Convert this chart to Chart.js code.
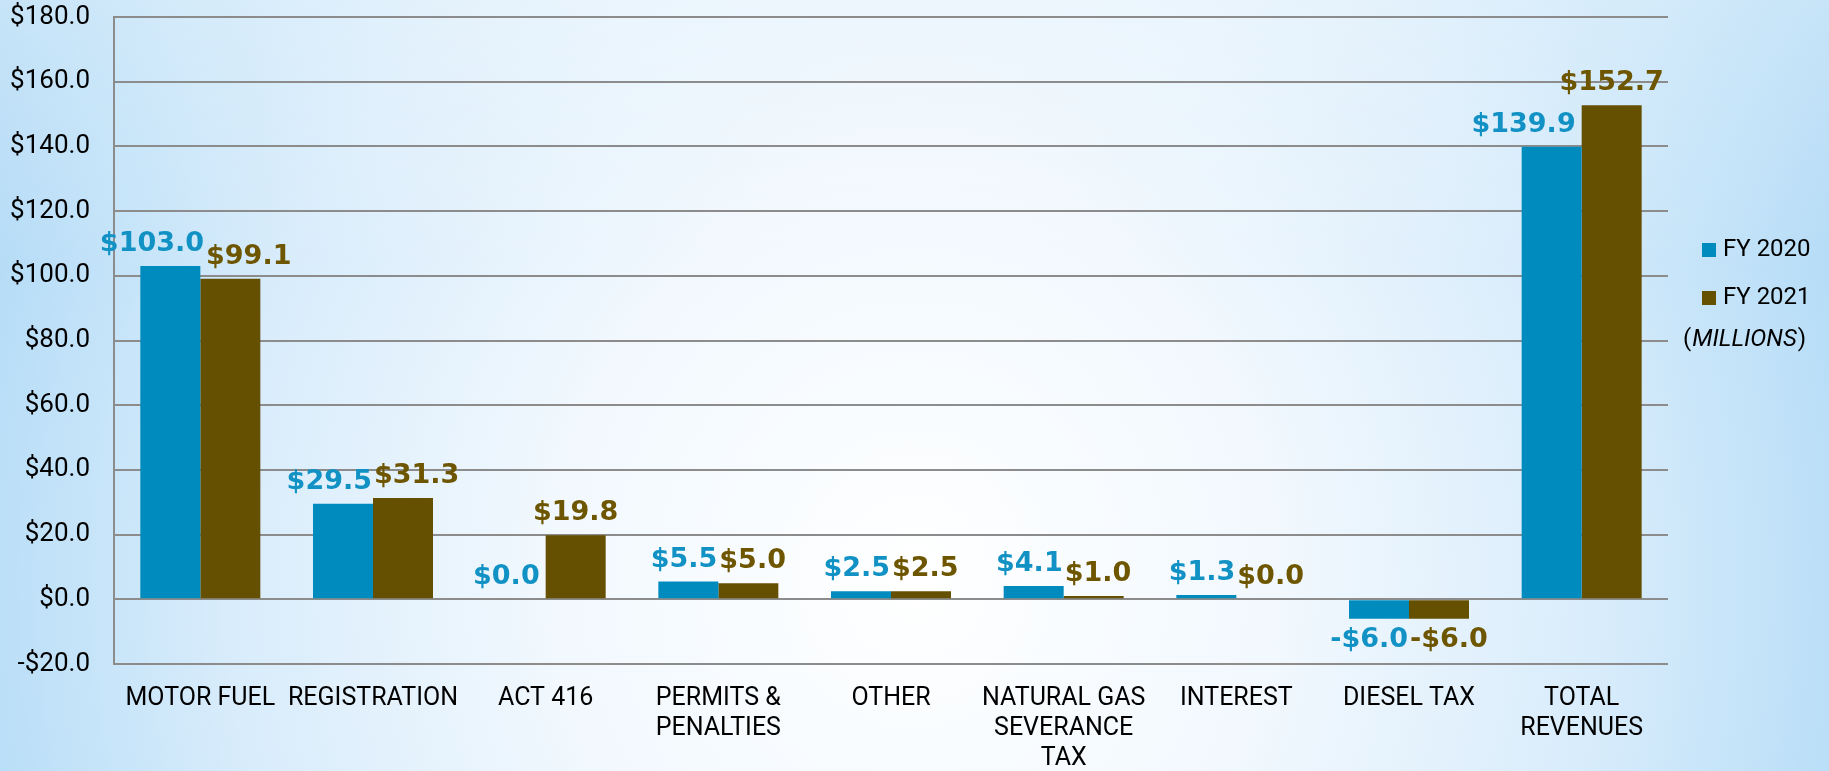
<!DOCTYPE html>
<html>
<head>
<meta charset="utf-8">
<script src="https://cdn.jsdelivr.net/npm/chart.js@4.4.1/dist/chart.umd.min.js"></script>
<style>
	html, body { margin: 0; padding: 0; width: 1829px; height: 771px; overflow: hidden; }
	body {
		background:
			linear-gradient(to bottom, rgba(255, 255, 255, 0.35) 0%, rgba(255, 255, 255, 0) 35%),
			radial-gradient(ellipse 58% 150% at 50% 75%, #ffffff 0%, #f1f8fe 35%, #d8ecfb 65%, #bde0f8 85%, #a8d5f4 100%);
	}
	#wrap { position: relative; width: 1829px; height: 771px; }
</style>
</head>
<body>
<div id="wrap"><canvas id="chart-revenues"></canvas></div>
<script>
// ----------------------------------------------
// Data (millions)
// ----------------------------------------------
const CATEGORIES = [
	"MOTOR FUEL",
	"REGISTRATION",
	"ACT 416",
	["PERMITS &", "PENALTIES"],
	"OTHER",
	["NATURAL GAS", "SEVERANCE", "TAX"],
	"INTEREST",
	"DIESEL TAX",
	["TOTAL", "REVENUES"],
];
const SERIES_NAMES = ["FY 2020", "FY 2021"];
const FY2020 = [103.0, 29.5, 0.0, 5.5, 2.5, 4.1, 1.3, -6.0, 139.9];
const FY2021 = [99.1, 31.3, 19.8, 5.0, 2.5, 1.0, 0.0, -6.0, 152.7];
const Y_TICKS = [-20, 0, 20, 40, 60, 80, 100, 120, 140, 160, 180];
const UNIT_NOTE = "MILLIONS";

const BLUE = "rgb(0, 139, 190)";
const BROWN = "rgb(101, 79, 0)";
const BLUE_TEXT = "rgb(18, 146, 196)";
const BROWN_TEXT = "rgb(110, 86, 0)";
const GRID = "#8c8c8c";

const money = (v) => (v < 0 ? "-$" : "$") + Math.abs(v).toFixed(1);

// value labels above / below each bar, pushed apart when they collide
const valueLabels = {
	id: "valueLabels",
	afterDatasetsDraw(chart) {
		const { ctx } = chart;
		const metas = [chart.getDatasetMeta(0), chart.getDatasetMeta(1)];
		ctx.save();
		ctx.font = "bold 27px 'DejaVu Sans'";
		CATEGORIES.forEach((c, i) => {
			const bars = metas.map((meta) => meta.data[i]);
			const items = bars.map((bar, d) => {
				const v = chart.data.datasets[d].data[i];
				const txt = money(v);
				const w = ctx.measureText(txt).width;
				const neg = v < 0;
				return { txt, w, x: bar.x, y: neg ? bar.y + 8 : bar.y - 15, neg, color: d === 0 ? BLUE_TEXT : BROWN_TEXT };
			});
			const [a, b] = items;
			const overlap = (a.x + a.w / 2 + 2) - (b.x - b.w / 2);
			const sameRow = a.neg === b.neg && Math.abs(a.y - b.y) < 30;
			if (overlap > 0 && sameRow) {
				a.x -= overlap / 2;
				b.x += overlap / 2;
			}
			// keep a label off the taller neighbouring bar
			if (!a.neg && bars[1].y < a.y) {
				const edge = bars[1].x - bars[1].width / 2 - 6;
				if (a.x + a.w / 2 > edge) a.x = edge - a.w / 2;
			}
			if (!b.neg && bars[0].y < b.y) {
				const edge = bars[0].x + bars[0].width / 2 + 6;
				if (b.x - b.w / 2 < edge) b.x = edge + b.w / 2;
			}
			items.forEach((it) => {
				ctx.fillStyle = it.color;
				ctx.textAlign = "center";
				ctx.textBaseline = it.neg ? "top" : "alphabetic";
				ctx.fillText(it.txt, it.x, it.y);
			});
		});
		ctx.restore();
	},
};

// legend on the right with the unit note
const sideLegend = {
	id: "sideLegend",
	afterDraw(chart) {
		const { ctx, chartArea } = chart;
		const x0 = chartArea.right + 34;
		ctx.save();
		ctx.font = "24px Roboto";
		ctx.textBaseline = "middle";
		ctx.textAlign = "left";
		chart.data.datasets.forEach((ds, d) => {
			const cy = 250 + d * 48;
			ctx.fillStyle = ds.backgroundColor;
			ctx.fillRect(x0, cy - 7, 14, 14);
			ctx.fillStyle = "#000";
			ctx.fillText(ds.label, x0 + 21, cy);
		});
		const y = 340;
		let x = x0 - 19;
		ctx.fillText("(", x, y);
		x += ctx.measureText("(").width + 1;
		ctx.font = "italic 24px Roboto";
		ctx.fillText(UNIT_NOTE, x, y);
		x += ctx.measureText(UNIT_NOTE).width + 1;
		ctx.font = "24px Roboto";
		ctx.fillText(")", x, y);
		ctx.restore();
	},
};

const CHART_DATA = {
	labels: CATEGORIES,
	datasets: [
		{
			label: SERIES_NAMES[0],
			data: FY2020,
			backgroundColor: BLUE,
			borderWidth: 0,
			categoryPercentage: 0.695,
			barPercentage: 1,
		},
		{
			label: SERIES_NAMES[1],
			data: FY2021,
			backgroundColor: BROWN,
			borderWidth: 0,
			categoryPercentage: 0.695,
			barPercentage: 1,
		},
	],
};

const CHART_CONFIG = {
	type: "bar",
	data: CHART_DATA,
	plugins: [valueLabels, sideLegend],
	options: {
		responsive: false,
		animation: false,
		devicePixelRatio: 1,
		layout: {
			padding: { left: 0, right: 161, top: 17, bottom: 0 },
		},
		plugins: {
			legend: { display: false },
			title: { display: false },
			tooltip: { enabled: false },
		},
		scales: {
			x: {
				grid: { display: false, drawTicks: false },
				border: { display: false },
				ticks: {
					color: "#000",
					font: { family: "Roboto", size: 25, lineHeight: 1.2 },
					padding: 20,
					maxRotation: 0,
					autoSkip: false,
				},
				afterFit: (scale) => { scale.height = 107; scale.paddingLeft = 0; scale.paddingRight = 0; },
			},
			y: {
				min: Y_TICKS[0],
				max: Y_TICKS[Y_TICKS.length - 1],
				afterBuildTicks: (scale) => { scale.ticks = Y_TICKS.map((v) => ({ value: v })); },
				grid: { color: GRID, lineWidth: 2, drawTicks: false },
				border: { display: true, color: GRID, width: 2 },
				ticks: {
					color: "#000",
					font: { family: "Roboto", size: 26 },
					padding: 24,
					callback: (v) => money(v),
				},
				afterFit: (scale) => { scale.width = 114; scale.paddingTop = 0; scale.paddingBottom = 0; },
			},
		},
	},
};

const canvas = document.getElementById("chart-revenues");
canvas.width = 1829;
canvas.height = 771;
new Chart(canvas, CHART_CONFIG);
</script>
</body>
</html>
